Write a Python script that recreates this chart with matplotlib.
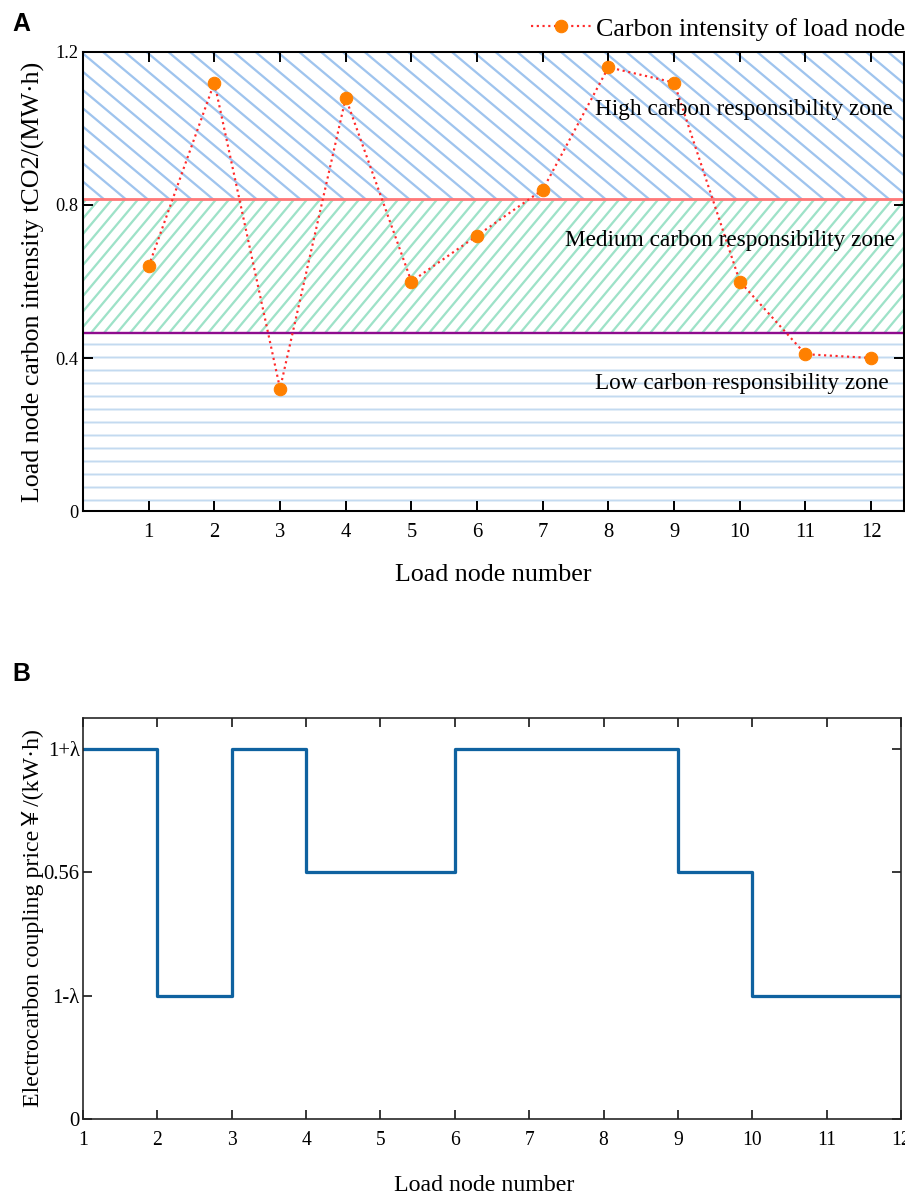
import numpy as np
import matplotlib
matplotlib.use('Agg')
import matplotlib.pyplot as plt
from matplotlib.patches import Rectangle
from matplotlib.collections import LineCollection

# panel A data
nodes = [1, 2, 3, 4, 5, 6, 7, 8, 9, 10, 11, 12]
carbon_intensity = [0.64, 1.12, 0.32, 1.08, 0.60, 0.72, 0.84, 1.16, 1.12, 0.60, 0.41, 0.40]
high_zone = [0.815, 1.2]
medium_zone = [0.465, 0.815]
low_zone = [0.0, 0.465]
top_yticks = [0, 0.4, 0.8, 1.2]
top_yticklabels = ['0', '0.4', '0.8', '1.2']

# panel B data (price level index per node, step after each node)
price_level = [3, 1, 3, 2, 2, 3, 3, 3, 2, 1, 1, 1]
price_ticks = [0, 1, 2, 3]
price_ticklabels = ['0', '1-λ', '0.56', '1+λ']

DPI = 78
plt.rcParams['font.family'] = ['Liberation Serif', 'Noto Sans CJK SC', 'DejaVu Serif']
plt.rcParams['hatch.linewidth'] = 1.8

fig = plt.figure(figsize=(905 / DPI, 1203 / DPI), dpi=DPI)


def hatch_band(ax, y0, y1, angle, step_px, color, lw=2.1):
    # white band with slanted lines, spacing given in pixels (vertical)
    x0, x1 = ax.get_xlim()
    rect = Rectangle((x0, y0), x1 - x0, y1 - y0, facecolor='white', edgecolor='none', zorder=0)
    ax.add_patch(rect)
    pos = ax.get_position()
    w = pos.width * fig.get_figwidth() * DPI
    h = pos.height * fig.get_figheight() * DPI
    t = np.tan(np.radians(angle))
    lo = min(0, -t * w) - step_px
    hi = h + max(0, -t * w) + step_px
    segs = [[(0, c / h), (1, (c + t * w) / h)] for c in np.arange(lo, hi, step_px)]
    lc = LineCollection(segs, colors=color, linewidths=lw, transform=ax.transAxes, zorder=0.5)
    ax.add_collection(lc, autolim=False)
    lc.set_clip_path(rect)


# ---------------- panel A ----------------
ax1 = fig.add_axes([0.0917, 0.5752, 0.9072, 0.3816])
ax1.set_xlim(0, 12.5)
ax1.set_ylim(0, 1.2)
hatch_band(ax1, *high_zone, angle=-40, step_px=18.3, color='#9FC4EE')
hatch_band(ax1, *medium_zone, angle=50, step_px=15.5, color='#9EE2C8')
ax1.axhspan(*low_zone, facecolor='white', edgecolor='#C3DAF0', hatch='-', linewidth=0, zorder=0)
ax1.axhline(high_zone[0], color='#FF7878', linewidth=2.6, zorder=2)
ax1.axhline(medium_zone[0], color='#8E0C8E', linewidth=2.2, zorder=2)

ax1.plot(nodes, carbon_intensity, linestyle=':', color='#FF2A2A', linewidth=2,
         marker='o', markersize=11.5, markerfacecolor='#FF8000', markeredgecolor='#FF8000',
         label='Carbon intensity of load node', zorder=3)

ax1.text(0.9866, 0.8736, 'High carbon responsibility zone', transform=ax1.transAxes,
         ha='right', va='center', fontsize=21.5)
ax1.text(0.989, 0.5904, 'Medium carbon responsibility zone', transform=ax1.transAxes,
         ha='right', va='center', fontsize=21.5)
ax1.text(0.9817, 0.2789, 'Low carbon responsibility zone', transform=ax1.transAxes,
         ha='right', va='center', fontsize=21.5)

ax1.set_xlim(0, 12.5)
ax1.set_ylim(0, 1.2)
ax1.set_xticks(nodes)
ax1.set_yticks(top_yticks)
ax1.set_yticklabels(top_yticklabels)
ax1.tick_params(axis='both', direction='in', top=True, right=True, length=9, width=1.8)
ax1.tick_params(axis='x', labelsize=19, pad=11)
ax1.tick_params(axis='y', labelsize=17, pad=4)
for sp in ax1.spines.values():
    sp.set_linewidth(1.9)
    sp.set_zorder(4)
ax1.set_xlabel('Load node number', fontsize=24)
ax1.set_ylabel('Load node carbon intensity tCO2/(MW·h)', fontsize=24)
ax1.xaxis.set_label_coords(0.5, -0.115)
ax1.yaxis.set_label_coords(-0.046, 0.5)

ax1.legend(loc='center right', bbox_to_anchor=(1.0, 1 - 29 / 1203), bbox_transform=fig.transFigure,
           frameon=False, fontsize=24, handlelength=2.3, handletextpad=0.2,
           borderpad=0, borderaxespad=0)

fig.text(12 / 905, 1 - 24 / 1203, 'A', fontsize=23, fontweight='bold',
         family='Liberation Sans', ha='left', va='center')

# ---------------- panel B ----------------
ax2 = fig.add_axes([0.0917, 0.0698, 0.9039, 0.3334])
ax2.step(nodes, price_level, where='post', color='#0F62A0', linewidth=3)
ax2.set_xlim(1, 12)
ax2.set_ylim(0, 3.25)
ax2.set_xticks(nodes)
ax2.set_yticks(price_ticks)
ax2.set_yticklabels(price_ticklabels)
ax2.tick_params(axis='both', direction='in', top=True, right=True, length=8, width=1.4)
ax2.tick_params(axis='x', labelsize=18, pad=11)
ax2.tick_params(axis='y', labelsize=19, pad=3)
for sp in ax2.spines.values():
    sp.set_linewidth(1.5)
    sp.set_color('#222222')
ax2.set_xlabel('Load node number', fontsize=22)
ax2.set_ylabel('Electrocarbon coupling price￥/(kW·h)', fontsize=22)
ax2.xaxis.set_label_coords(0.49, -0.14)
ax2.yaxis.set_label_coords(-0.048, 0.5)

fig.text(12 / 905, 1 - 674 / 1203, 'B', fontsize=23, fontweight='bold',
         family='Liberation Sans', ha='left', va='center')

fig.savefig('out.png', dpi=DPI)
